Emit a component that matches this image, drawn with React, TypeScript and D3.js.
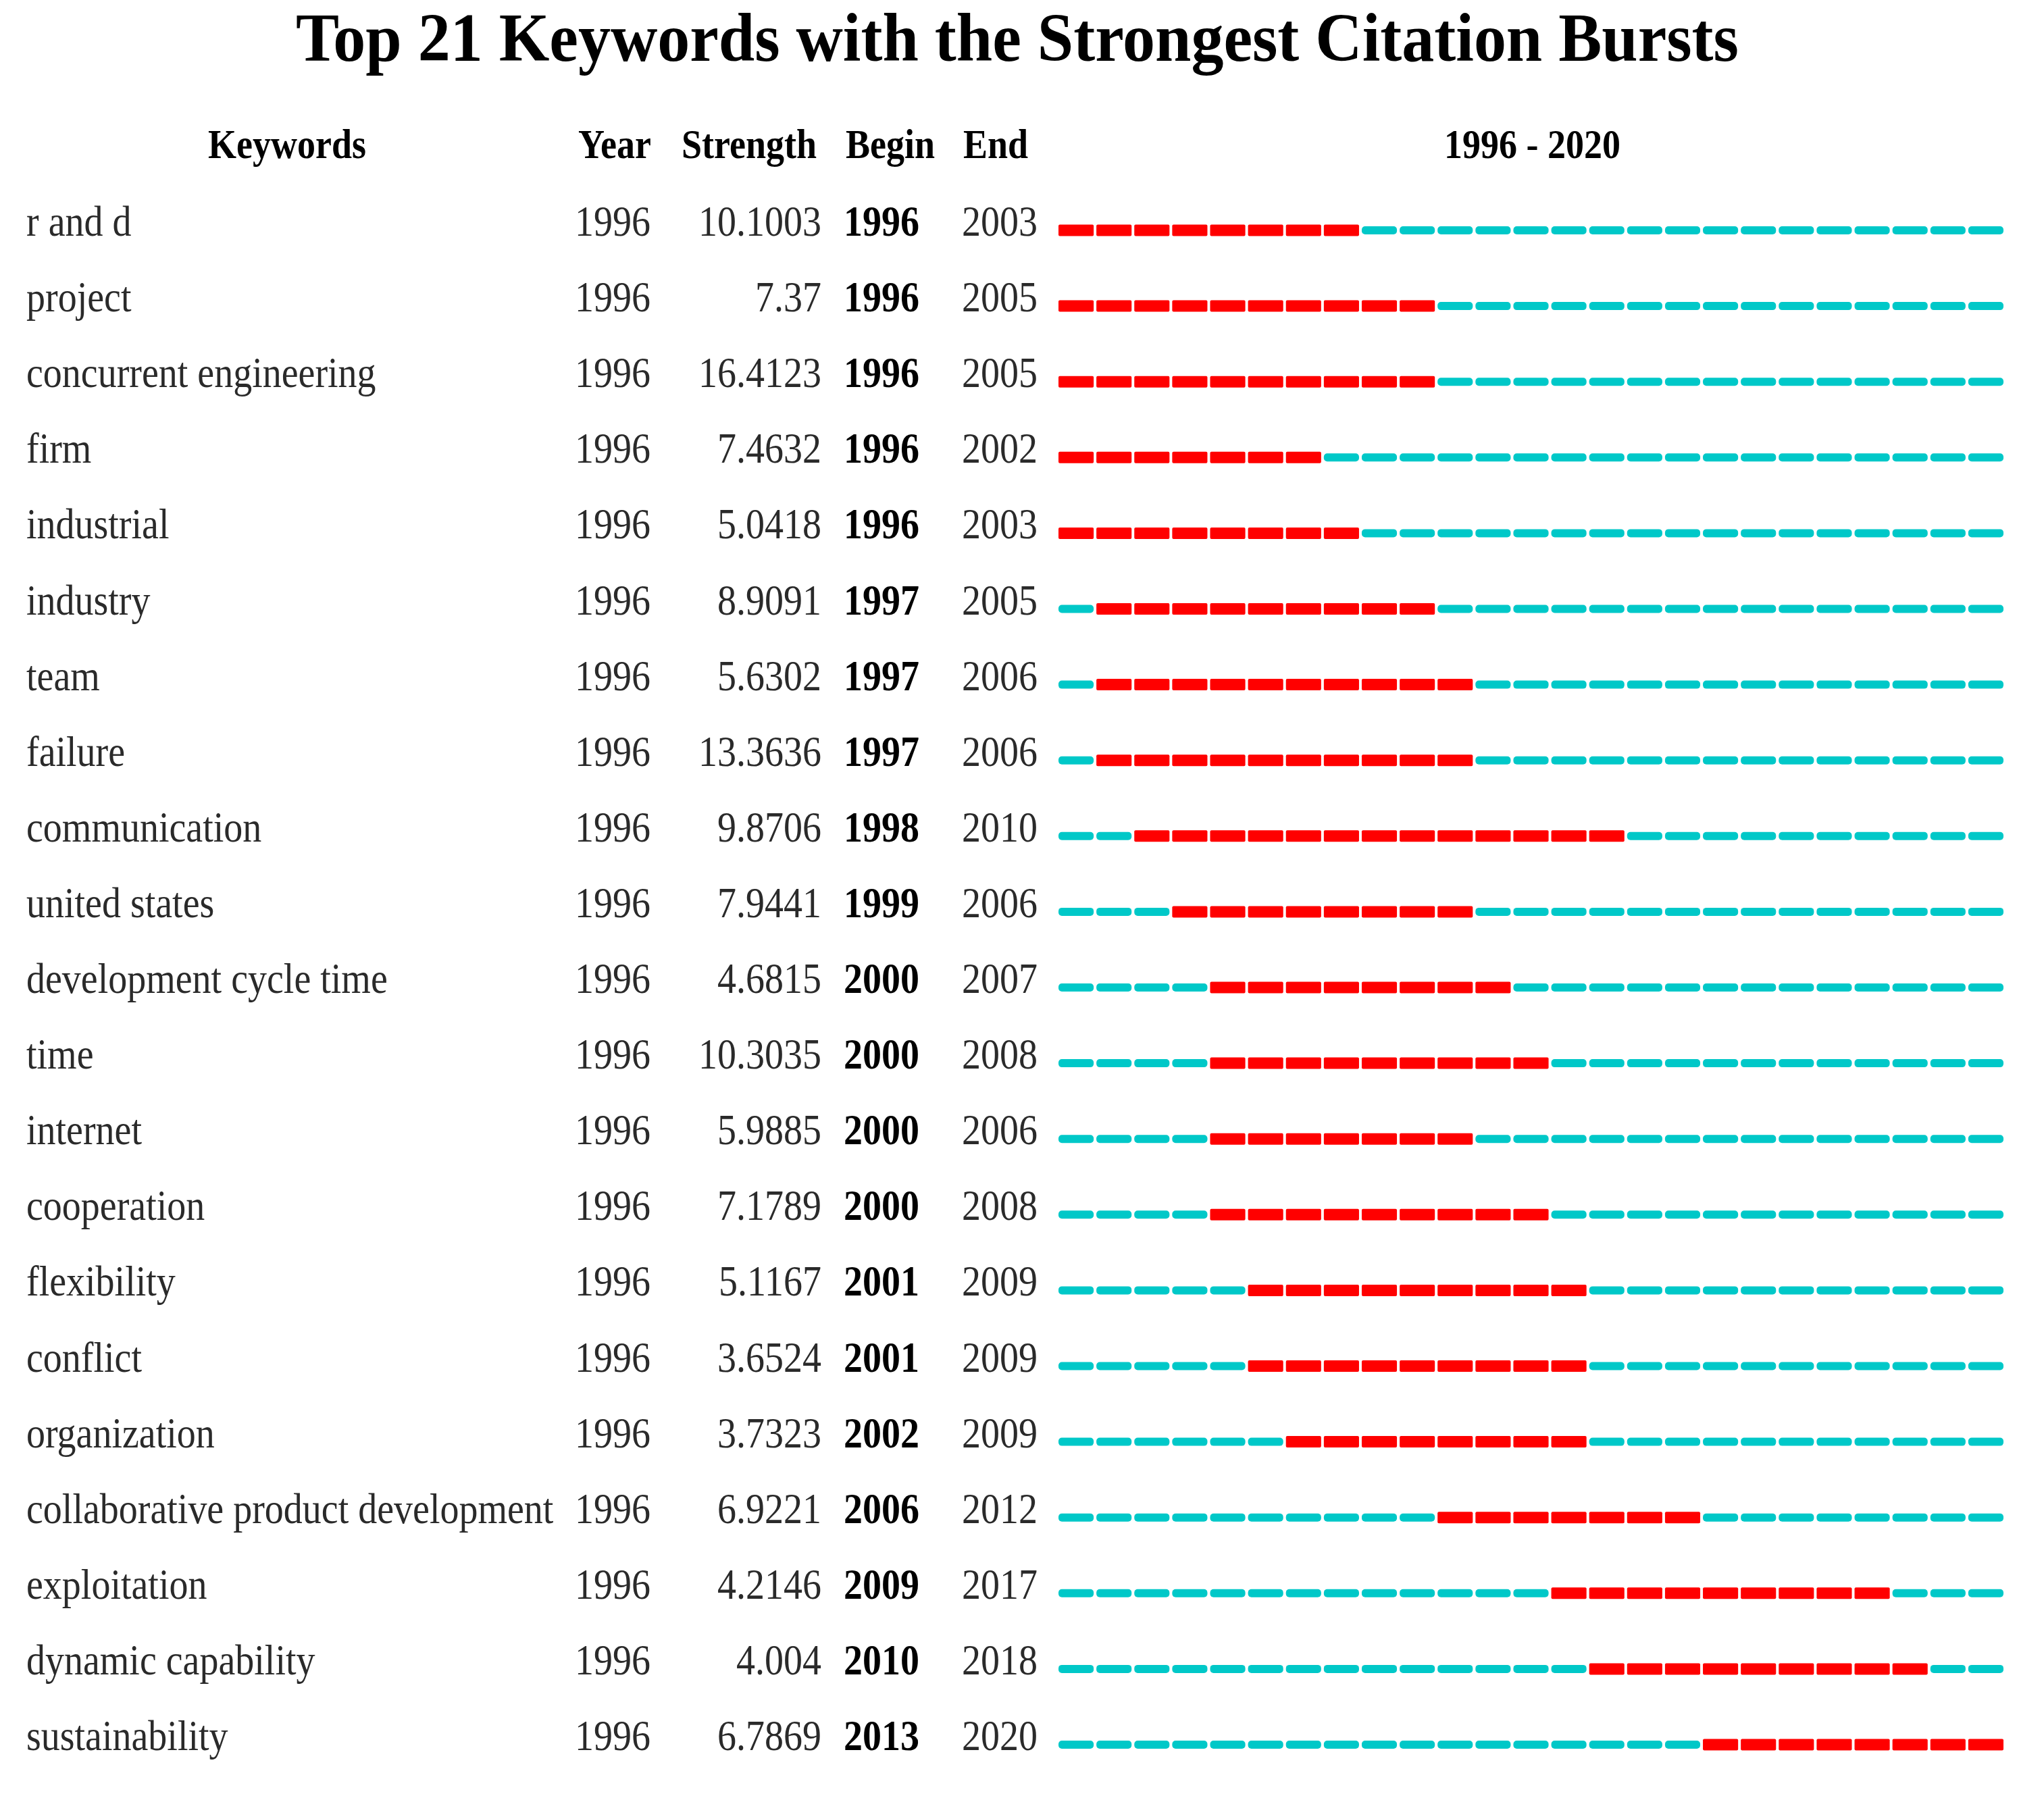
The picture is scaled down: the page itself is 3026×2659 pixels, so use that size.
import React from "react";
import * as d3 from "d3";

const keywords = [
  "r and d", "project", "concurrent engineering", "firm", "industrial", "industry", "team",
  "failure", "communication", "united states", "development cycle time", "time", "internet",
  "cooperation", "flexibility", "conflict", "organization", "collaborative product development",
  "exploitation", "dynamic capability", "sustainability",
];
const years = [1996, 1996, 1996, 1996, 1996, 1996, 1996, 1996, 1996, 1996, 1996, 1996, 1996, 1996, 1996, 1996, 1996, 1996, 1996, 1996, 1996];
const strengths = ["10.1003", "7.37", "16.4123", "7.4632", "5.0418", "8.9091", "5.6302", "13.3636", "9.8706", "7.9441", "4.6815", "10.3035", "5.9885", "7.1789", "5.1167", "3.6524", "3.7323", "6.9221", "4.2146", "4.004", "6.7869"];
const begins = [1996, 1996, 1996, 1996, 1996, 1997, 1997, 1997, 1998, 1999, 2000, 2000, 2000, 2000, 2001, 2001, 2002, 2006, 2009, 2010, 2013];
const ends = [2003, 2005, 2005, 2002, 2003, 2005, 2006, 2006, 2010, 2006, 2007, 2008, 2006, 2008, 2009, 2009, 2009, 2012, 2017, 2018, 2020];
const firstYear = 1996;
const lastYear = 2020;
const headers = ["Keywords", "Year", "Strength", "Begin", "End"];
const title = "Top 21 Keywords with the Strongest Citation Bursts";

const W = 3026;
const H = 2659;
const FONT = "'Liberation Serif', 'Times New Roman', serif";
const SY = 1.15;

const T = ({ x, y, anchor = "start", size, weight = "normal", fill = "#000", children, sy = SY }: any) => (
  <g transform={`translate(${x},${y}) scale(1,${sy})`}>
    <text x={0} y={0} textAnchor={anchor} fontSize={size} fontWeight={weight} fill={fill} fontFamily={FONT}>
      {children}
    </text>
  </g>
);

export default function App() {
  const allYears = d3.range(firstYear, lastYear + 1);
  const x = d3.scaleLinear().domain([firstYear, lastYear + 1]).range([1567, 2970]);
  const step = x(firstYear + 1) - x(firstYear);
  const row = d3.scaleLinear().domain([0, 20]).range([0, 20 * 112.1]);
  const barY0 = 341;
  const textY0 = 349;
  const headerY = 234;
  const headerX = [425, 910, 1109, 1318, 1474];
  const textColor = "#2a2a2a";

  return (
    <svg width={W} height={H} style={{ position: "absolute", left: 0, top: 0, background: "#fff" }}>
      <rect width={W} height={H} fill="#fff" />
      <T x={1506} y={90} anchor="middle" size={96} weight="bold" sy={1.06}>{title}</T>
      {headers.map((h, i) => (
        <T key={h} x={headerX[i]} y={headerY} anchor="middle" size={54} weight="bold">{h}</T>
      ))}
      <T x={(x(firstYear) + x(lastYear + 1)) / 2} y={headerY} anchor="middle" size={54} weight="bold">
        {`${firstYear} - ${lastYear}`}
      </T>
      {keywords.map((k, i) => {
        const ty = textY0 + row(i);
        const by = barY0 + row(i);
        return (
          <g key={k}>
            <T x={39} y={ty} size={56} fill={textColor}>{k}</T>
            <T x={851} y={ty} size={56} fill={textColor}>{years[i]}</T>
            <T x={1216} y={ty} anchor="end" size={56} fill={textColor}>{strengths[i]}</T>
            <T x={1249} y={ty} size={56} weight="bold">{begins[i]}</T>
            <T x={1424} y={ty} size={56} fill={textColor}>{ends[i]}</T>
            {allYears.map((yr) => {
              const burst = yr >= begins[i] && yr <= ends[i];
              const h = burst ? 17 : 12;
              return (
                <rect
                  key={yr}
                  x={x(yr)}
                  y={by - h / 2}
                  width={step - 4}
                  height={h}
                  rx={burst ? 2 : 5}
                  fill={burst ? "#FF0000" : "#00C8C8"}
                />
              );
            })}
          </g>
        );
      })}
    </svg>
  );
}
